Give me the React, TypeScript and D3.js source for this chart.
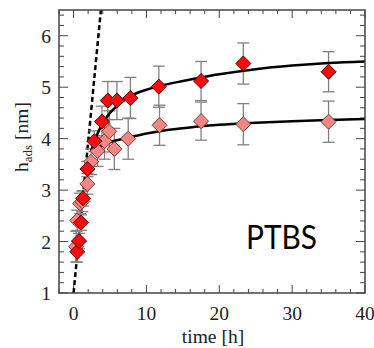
import React from "react";
import * as d3 from "d3";

const W = 374, H = 348;
const M = { left: 59, right: 9, top: 10, bottom: 55 };

const xTicksMajor = [0, 10, 20, 30, 40];
const yTicksMajor = [1, 2, 3, 4, 5, 6];

// red (dark) series: time [h], h_ads [nm], error
const redT = [0.5, 0.75, 1.03, 1.3, 1.9, 2.85, 3.9, 4.7, 5.95, 7.8, 11.7, 17.5, 23.3, 35];
const redH = [1.8, 2.01, 2.37, 2.84, 3.41, 3.95, 4.33, 4.74, 4.74, 4.79, 5.01, 5.12, 5.46, 5.3];
const redE = [0.2, 0.15, 0.15, 0.15, 0.15, 0.2, 0.3, 0.37, 0.37, 0.4, 0.4, 0.38, 0.4, 0.39];

// pink (light) series
const pinkT = [0.35, 0.5, 0.9, 1.2, 1.9, 2.4, 3.3, 4.25, 4.9, 5.6, 7.5, 11.8, 17.5, 23.3, 35];
const pinkH = [1.9, 2.41, 2.74, 2.78, 3.12, 3.55, 3.76, 3.95, 4.14, 3.8, 4.0, 4.26, 4.34, 4.28, 4.33];
const pinkE = [0.3, 0.2, 0.2, 0.2, 0.2, 0.25, 0.3, 0.35, 0.4, 0.4, 0.4, 0.39, 0.37, 0.4, 0.4];

// fitted curves
const redFitT = [2.4, 3, 4, 5, 6, 8, 10, 12, 15, 17.5, 20, 25, 30, 35, 40];
const redFitH = [3.76, 4.0, 4.3, 4.5, 4.64, 4.84, 4.95, 5.03, 5.12, 5.19, 5.25, 5.35, 5.42, 5.47, 5.5];
const pinkFitT = [3.5, 5, 7.5, 10, 12, 15, 17.5, 20, 25, 30, 35, 40];
const pinkFitH = [3.84, 3.93, 4.02, 4.1, 4.15, 4.2, 4.24, 4.27, 4.31, 4.34, 4.36, 4.38];

// initial-slope dashed line
const dashT = [0, 3.75];
const dashH = [1, 6.5];

export default function App() {
  const x = d3.scaleLinear().domain([-2, 40]).range([M.left, W - M.right]);
  const y = d3.scaleLinear().domain([1, 6.5]).range([H - M.bottom, M.top]);
  const x0 = M.left, x1 = W - M.right, y0 = H - M.bottom, y1 = M.top;

  const xMinor = d3.range(-2, 40.001, 2);
  const yMinor = d3.range(1, 6.5001, 0.2);

  const line = d3
    .line<[number, number]>()
    .x((d) => x(d[0]))
    .y((d) => y(d[1]))
    .curve(d3.curveMonotoneX);
  const straight = d3.line<[number, number]>().x((d) => x(d[0])).y((d) => y(d[1]));

  const redFit = redFitT.map((t, i) => [t, redFitH[i]] as [number, number]);
  const pinkFit = pinkFitT.map((t, i) => [t, pinkFitH[i]] as [number, number]);
  const dash = dashT.map((t, i) => [t, dashH[i]] as [number, number]);

  const serif = "'Liberation Serif', 'DejaVu Serif', serif";
  const r = 7.5;
  const diamond = (cx: number, cy: number) =>
    `M${cx},${cy - r}L${cx + r},${cy}L${cx},${cy + r}L${cx - r},${cy}Z`;

  const errBars = (ts: number[], hs: number[], es: number[], key: string) =>
    ts.map((t, i) => {
      const cx = x(t), top = y(hs[i] + es[i]), bot = y(hs[i] - es[i]);
      return (
        <g key={key + i} stroke="#808080" strokeWidth={1.3}>
          <line x1={cx} x2={cx} y1={top} y2={bot} />
          <line x1={cx - 6} x2={cx + 6} y1={top} y2={top} />
          <line x1={cx - 6} x2={cx + 6} y1={bot} y2={bot} />
        </g>
      );
    });

  return (
    <svg width={W} height={H} style={{ position: "absolute", left: 0, top: 0, background: "#fff" }}>
      <defs>
        <clipPath id="plotclip">
          <rect x={x0} y={y1} width={x1 - x0} height={y0 - y1} />
        </clipPath>
      </defs>
      {/* ticks */}
      <g stroke="#444" strokeWidth={1}>
        {xMinor.map((t) => {
          const major = xTicksMajor.includes(Math.round(t));
          const len = major ? 8 : 4;
          return (
            <g key={"xt" + t}>
              <line x1={x(t)} x2={x(t)} y1={y0} y2={y0 - len} />
              <line x1={x(t)} x2={x(t)} y1={y1} y2={y1 + len} />
            </g>
          );
        })}
        {yMinor.map((v) => {
          const major = Math.abs(v - Math.round(v)) < 1e-6;
          const len = major ? 9 : 5;
          return (
            <g key={"yt" + v.toFixed(1)}>
              <line x1={x0} x2={x0 + len} y1={y(v)} y2={y(v)} />
              <line x1={x1} x2={x1 - len} y1={y(v)} y2={y(v)} />
            </g>
          );
        })}
      </g>
      {/* tick labels */}
      <g fontFamily={serif} fontSize={19.5} fill="#222">
        {xTicksMajor.map((t) => (
          <text key={"xl" + t} x={x(t)} y={320} textAnchor="middle">
            {t}
          </text>
        ))}
        {yTicksMajor.map((v) => (
          <text key={"yl" + v} x={51} y={y(v) + 7} textAnchor="end">
            {v}
          </text>
        ))}
        <text x={213} y={343} textAnchor="middle">time [h]</text>
        <text transform={`translate(28,${137}) rotate(-90)`} textAnchor="middle">
          h<tspan fontSize={13} dy={4}>ads</tspan>
          <tspan dy={-4}> [nm]</tspan>
        </text>
      </g>
      <g clipPath="url(#plotclip)">
        <path d={straight(dash) || ""} fill="none" stroke="#000" strokeWidth={2.5} strokeDasharray="5,3" />
        {errBars(pinkT, pinkH, pinkE, "pe")}
        {errBars(redT, redH, redE, "re")}
        <path d={line(pinkFit) || ""} fill="none" stroke="#000" strokeWidth={2.5} />
        <path d={line(redFit) || ""} fill="none" stroke="#000" strokeWidth={2.5} />
        {pinkT.map((t, i) => (
          <path key={"pd" + i} d={diamond(x(t), y(pinkH[i]))} fill="#f28684" stroke="#7a3a3a" strokeWidth={1} />
        ))}
        {redT.map((t, i) => (
          <path key={"rd" + i} d={diamond(x(t), y(redH[i]))} fill="#ff0a0a" stroke="#4a0000" strokeWidth={1} />
        ))}
      </g>
      {/* frame */}
      <rect x={x0} y={y1} width={x1 - x0} height={y0 - y1} fill="none" stroke="#444" strokeWidth={1.5} />
      <text x={246} y={249} fontFamily="Lato, 'Open Sans', sans-serif" fontSize={33} fill="#000" textLength={71} lengthAdjust="spacingAndGlyphs">
        PTBS
      </text>
    </svg>
  );
}
